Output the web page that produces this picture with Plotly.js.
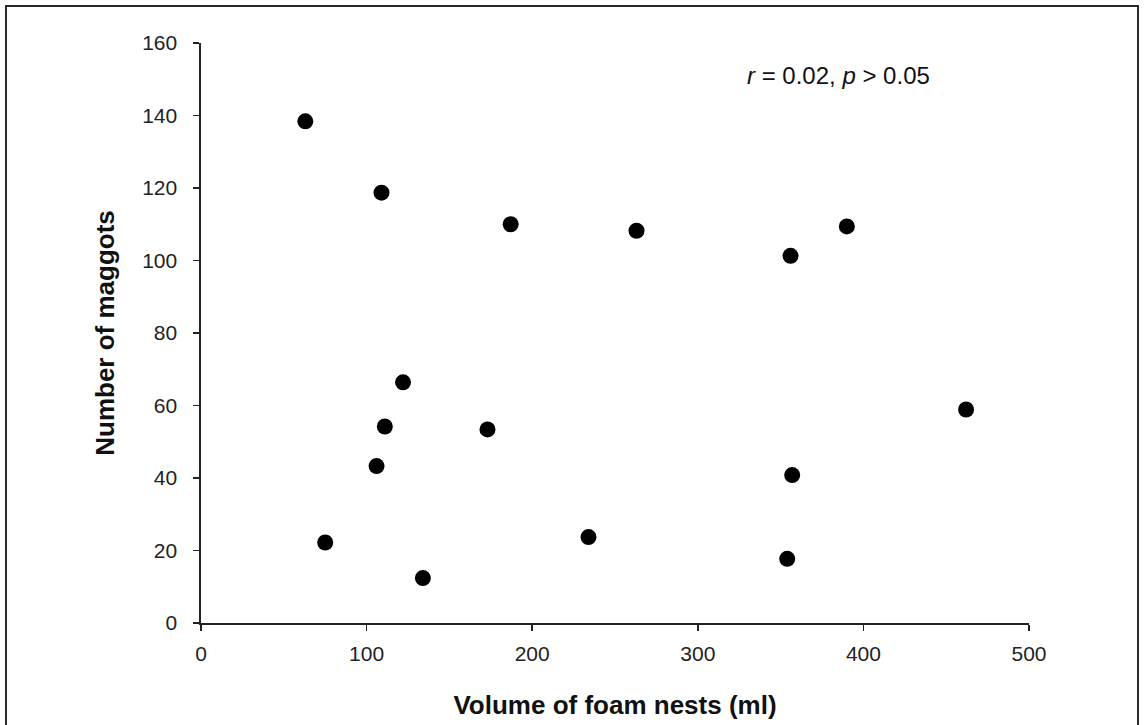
<!DOCTYPE html>
<html>
<head>
<meta charset="utf-8">
<script src="https://cdn.plot.ly/plotly-3.0.1.min.js"></script>
<style>
  html, body { margin: 0; padding: 0; background: #fff; overflow: hidden; }
  #chart { width: 1144px; height: 725px; }
  #frame { position: absolute; left: 5px; top: 5px; width: 1134px; height: 740px;
           border: 2px solid #2a2a2a; pointer-events: none; box-sizing: border-box; }
</style>
</head>
<body>
<div id="chart"></div>
<div id="frame"></div>
<script>
// Data
const foamVolumeMl = [63, 109, 187, 263, 356, 390, 122, 111, 173, 106, 75, 134, 462, 357, 234, 354];
const maggotCount  = [138.4, 118.7, 110.0, 108.2, 101.3, 109.4, 66.4, 54.2, 53.4, 43.3, 22.2, 12.4, 58.9, 40.8, 23.7, 17.7];
const xTickVals = [0, 100, 200, 300, 400, 500];
const yTickVals = [0, 20, 40, 60, 80, 100, 120, 140, 160];
const xTitle = 'Volume of foam nests (ml)';
const yTitle = 'Number of maggots';
const statText = '<i>r</i> = 0.02, <i>p</i> &gt; 0.05';

const FONT = '"Liberation Sans", Arial, Helvetica, sans-serif';

const trace = {
  type: 'scatter',
  mode: 'markers',
  x: foamVolumeMl,
  y: maggotCount,
  marker: { color: '#000', size: 16, line: { width: 0 } },
  hoverinfo: 'x+y',
  showlegend: false
};

const layout = {
  width: 1144,
  height: 725,
  paper_bgcolor: '#fff',
  plot_bgcolor: '#fff',
  margin: { l: 201, r: 115, t: 43, b: 102 },
  font: { family: FONT, color: '#1a1a1a' },
  xaxis: {
    range: [0, 500],
    tickvals: xTickVals,
    ticktext: xTickVals.map(String),
    showgrid: false,
    zeroline: false,
    showline: true,
    linecolor: '#222',
    linewidth: 1.6,
    ticks: 'outside',
    ticklen: 6,
    tickwidth: 1.6,
    tickcolor: '#222',
    tickfont: { size: 21, color: '#222', family: FONT },
    ticklabelstandoff: 5,
    title: { text: '<b>' + xTitle + '</b>', font: { size: 26, color: '#111', family: FONT }, standoff: 32 },
    automargin: false,
    fixedrange: true
  },
  yaxis: {
    range: [0, 160],
    tickvals: yTickVals,
    ticktext: yTickVals.map(String),
    showgrid: false,
    zeroline: false,
    showline: true,
    linecolor: '#222',
    linewidth: 1.6,
    ticks: 'outside',
    ticklen: 6,
    tickwidth: 1.6,
    tickcolor: '#222',
    tickfont: { size: 21, color: '#222', family: FONT },
    ticklabelstandoff: 12,
    title: { text: '<b>' + yTitle + '</b>', font: { size: 26, color: '#111', family: FONT }, standoff: 20 },
    automargin: false,
    fixedrange: true
  },
  annotations: [{
    x: 385, y: 150.9, xref: 'x', yref: 'y',
    text: statText,
    showarrow: false,
    xanchor: 'center', yanchor: 'middle',
    font: { size: 24, color: '#111', family: FONT }
  }]
};

Plotly.newPlot('chart', [trace], layout, { displayModeBar: false, staticPlot: true });
</script>
</body>
</html>
